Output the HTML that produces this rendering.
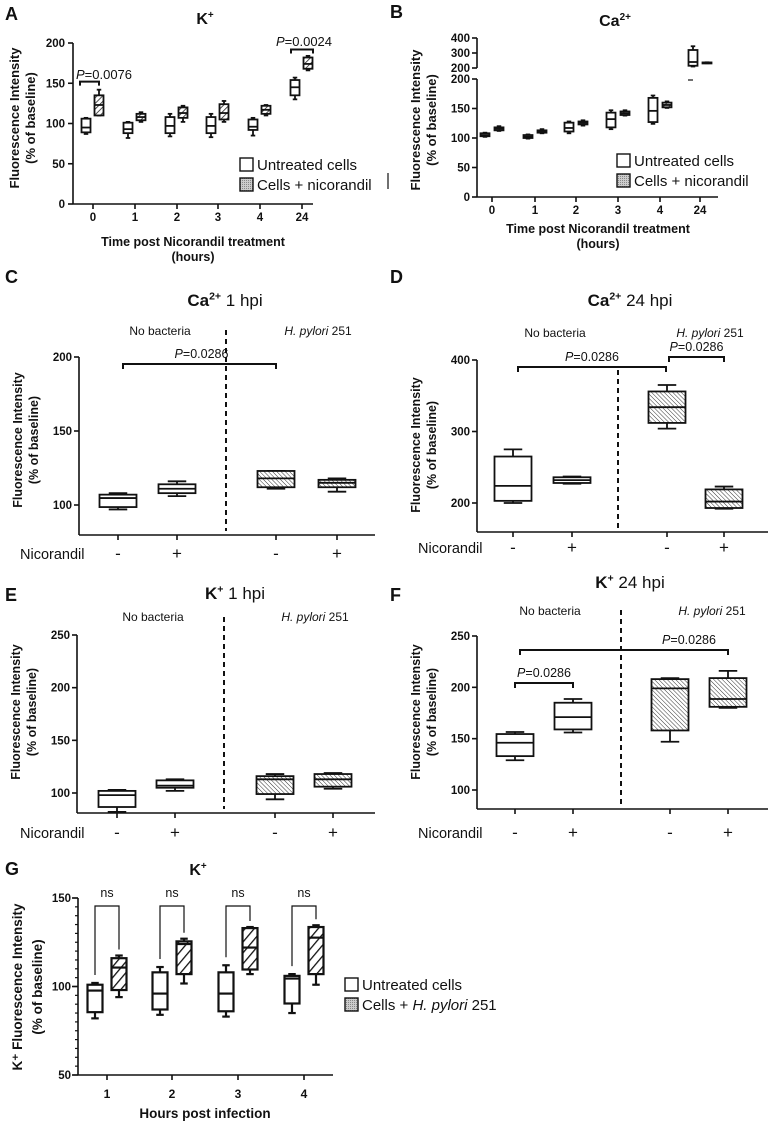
<!DOCTYPE html>
<html><head><meta charset="utf-8">
<style>
html,body{margin:0;padding:0;background:#fff;}
svg{display:block;font-family:"Liberation Sans",Arial,sans-serif;}
</style></head>
<body>
<svg id="fig" width="770" height="1126" viewBox="0 0 770 1126" xmlns="http://www.w3.org/2000/svg">
<defs>
<pattern id="hatchA" patternUnits="userSpaceOnUse" width="4" height="4" patternTransform="rotate(45)"><rect width="4" height="4" fill="#fff"/><line x1="0" y1="0" x2="0" y2="4" stroke="#222" stroke-width="1.6"/></pattern>
<pattern id="hatchC" patternUnits="userSpaceOnUse" width="3" height="3" patternTransform="rotate(-45)"><rect width="3" height="3" fill="#fff"/><line x1="0" y1="0" x2="0" y2="3" stroke="#333" stroke-width="1"/></pattern>
<pattern id="hatchG" patternUnits="userSpaceOnUse" width="7" height="7" patternTransform="rotate(40)"><rect width="7" height="7" fill="#fff"/><line x1="0" y1="0" x2="0" y2="7" stroke="#111" stroke-width="2.6"/></pattern>
<pattern id="legHatch" patternUnits="userSpaceOnUse" width="2" height="2"><rect width="2" height="2" fill="#ccc"/><rect width="1" height="1" fill="#888"/></pattern>
</defs>
</svg>
<script>
// ---------- DATA ----------
// stats = [min, q1, median, q3, max]
const aCats = ["0","1","2","3","4","24"];
const aUntreated = [[87,89,95,106,107],[82,88,93,101,102],[84,88,97,108,112],[83,88,97,108,112],[85,92,96,105,107],[130,135,145,154,157]];
const aTreated = [[110,110,123,135,142],[102,104,108,112,114],[102,107,113,120,122],[102,105,113,124,128],[110,112,117,122,123],[166,168,174,182,184]];
const aTicks = [0,50,100,150,200];

const bCats = ["0","1","2","3","4","24"];
const bUntreated = [[102,103,105,108,109],[99,100,102,105,106],[108,111,117,126,128],[115,118,132,143,147],[124,127,146,168,172],[210,215,240,320,345]];
const bTreated = [[112,113,116,118,120],[108,109,111,113,115],[121,123,126,128,130],[138,139,142,145,147],[151,152,156,160,162],[232,233,235,237,238]];
const bTicksLow = [0,50,100,150,200];
const bTicksHigh = [200,300,400];

const cdSigns = ["-","+","-","+"];
const cStats = [[97,98.6,104.7,107,108],[106,108,111,114,116],[111,112,118,123,123],[109,112,115,117,118]];
const cTicks = [100,150,200];
const dStats = [[200,203,224,265,275],[227,228,232,236,237],[304,312,334,356,365],[192,193,202,219,223]];
const dTicks = [200,300,400];
const eStats = [[82,86.7,98,102,103],[102,105,107,112,113],[94,99,113,116,118],[104,106,113,118,119]];
const eTicks = [100,150,200,250];
const fStats = [[129,133,146,154.5,156.5],[156,159,171,185,188.6],[147,158,199,208,209],[180,181,188.6,209,216]];
const fTicks = [100,150,200,250];

const gCats = ["1","2","3","4"];
const gUntreated = [[82,85.5,97.7,101,102],[84,87,96,108,111],[83,86,96,108,112],[85,90.4,104.5,106,107]];
const gInfected = [[94,98,110.7,116,117.5],[101.7,107,124,125.5,127],[107,109.6,122,133,133.6],[101,107,127.6,133.6,134.6]];
const gTicks = [50,100,150];

// ---------- HELPERS ----------
const NS = "http://www.w3.org/2000/svg";
const svg = document.getElementById("fig");
function el(tag, attrs, parent){
  const e = document.createElementNS(NS, tag);
  for (const k in attrs) e.setAttribute(k, attrs[k]);
  (parent||svg).appendChild(e);
  return e;
}
function txt(x,y,s,size,opts,parent){
  const t = el("text",{x:x,y:y,"font-size":size,"text-anchor":(opts&&opts.anchor)||"middle","font-weight":(opts&&opts.bold)?"bold":"normal",fill:"#111"},parent);
  if (opts && opts.rot) t.setAttribute("transform","rotate(-90 "+x+" "+y+")");
  if (opts && opts.italic) t.setAttribute("font-style","italic");
  t.textContent = s;
  return t;
}
function linear(v0,p0,v1,p1){ return v => p0 + (v - v0) * (p1 - p0) / (v1 - v0); }
function line(x1,y1,x2,y2,w,parent,dash){
  const l = el("line",{x1:x1,y1:y1,x2:x2,y2:y2,stroke:"#111","stroke-width":w||1.5},parent);
  if (dash) l.setAttribute("stroke-dasharray",dash);
  return l;
}
function boxplot(g, cx, w, s, y, fill, sw){
  sw = sw || 1.6;
  const cap = w*0.5;
  line(cx, y(s[4]), cx, y(s[3]), sw, g);
  line(cx, y(s[1]), cx, y(s[0]), sw, g);
  line(cx-cap/2, y(s[4]), cx+cap/2, y(s[4]), sw, g);
  line(cx-cap/2, y(s[0]), cx+cap/2, y(s[0]), sw, g);
  el("rect",{x:cx-w/2,y:y(s[3]),width:w,height:Math.max(1,y(s[1])-y(s[3])),fill:fill,stroke:"#111","stroke-width":sw},g);
  line(cx-w/2, y(s[2]), cx+w/2, y(s[2]), sw, g);
}
function yLabel(x, y, l1, l2, size, bold, parent){
  txt(x, y, l1, size, {rot:true,bold:bold}, parent);
  if (l2) txt(x+16, y, l2, size, {rot:true,bold:bold}, parent);
}
function pval(x,y,val,size,parent){
  const t = el("text",{x:x,y:y,"font-size":size,"text-anchor":"middle",fill:"#111"},parent);
  const a = document.createElementNS(NS,"tspan"); a.setAttribute("font-style","italic"); a.textContent="P"; t.appendChild(a);
  const b = document.createElementNS(NS,"tspan"); b.textContent="="+val; t.appendChild(b);
}
function bracket(x1,x2,yTop,drop,parent,w){
  el("path",{d:"M"+x1+" "+(yTop+drop)+" V"+yTop+" H"+x2+" V"+(yTop+drop),fill:"none",stroke:"#111","stroke-width":w||2},parent);
}
function title(x,y,main,sup,rest,size,parent){
  const t = el("text",{x:x,y:y,"font-size":size,"text-anchor":"middle",fill:"#111"},parent);
  const a = document.createElementNS(NS,"tspan"); a.setAttribute("font-weight","bold"); a.textContent=main; t.appendChild(a);
  const b = document.createElementNS(NS,"tspan"); b.setAttribute("font-weight","bold"); b.setAttribute("font-size",size*0.62); b.setAttribute("dy",-size*0.38); b.textContent=sup; t.appendChild(b);
  if (rest){ const c = document.createElementNS(NS,"tspan"); c.setAttribute("dy",size*0.38); c.textContent=rest; t.appendChild(c); }
}

// ---------- PANEL A ----------
(function(){
  const g = el("g",{});
  
  
  txt(5,20,"A",18,{anchor:"start",bold:true},g);
  title(205,24,"K","+","",16,g);
  const y = linear(0,204,200,43);
  const xc = [93,135,177,218,260,302];
  line(73,43,73,204,1.6,g); line(73,204,313,204,1.6,g);
  aTicks.forEach(v=>{ line(68,y(v),73,y(v),1.6,g); txt(65,y(v)+4,String(v),11.5,{anchor:"end",bold:true},g); });
  aCats.forEach((c,i)=>{ line(xc[i],204,xc[i],209,1.6,g); txt(xc[i],221,c,11.5,{bold:true},g); });
  aUntreated.forEach((s,i)=>boxplot(g,xc[i]-7,9,s,y,"#fff",1.8));
  aTreated.forEach((s,i)=>boxplot(g,xc[i]+6,9,s,y,"url(#hatchA)",1.8));
  bracket(80,99,y(152),4,g,2); pval(104,79,"0.0076",13,g);
  bracket(291,313,y(192),4,g,2); pval(304,46,"0.0024",13,g);
  yLabel(19,118,"Fluorescence Intensity","(% of baseline)",13,true,g);
  txt(193,246,"Time post Nicorandil treatment",12.5,{bold:true},g);
  txt(193,261,"(hours)",12.5,{bold:true},g);
  el("rect",{x:240,y:158,width:13,height:13,fill:"#fff",stroke:"#111","stroke-width":1.4},g);
  txt(257,170,"Untreated cells",15,{anchor:"start"},g);
  el("rect",{x:240,y:178,width:13,height:13,fill:"url(#legHatch)",stroke:"#111","stroke-width":1.4},g);
  txt(257,190,"Cells + nicorandil",15,{anchor:"start"},g);
})();

// ---------- PANEL B ----------
(function(){
  const g = el("g",{});
  
  
  txt(390,18,"B",18,{anchor:"start",bold:true},g);
  title(615,26,"Ca","2+","",16,g);
  const yl = linear(0,197,200,79);
  const yh = linear(200,68,400,38);
  const xc = [492,535,576,618,660,700];
  line(477,79,477,197,1.6,g); line(477,38,477,68,1.6,g); line(477,197,718,197,1.6,g);
  bTicksLow.forEach(v=>{ line(472,yl(v),477,yl(v),1.6,g); txt(470,yl(v)+4,String(v),11.5,{anchor:"end",bold:true},g); });
  bTicksHigh.forEach(v=>{ line(472,yh(v),477,yh(v),1.6,g); txt(470,yh(v)+4,String(v),11.5,{anchor:"end",bold:true},g); });
  bCats.forEach((c,i)=>{ line(xc[i],197,xc[i],202,1.6,g); txt(xc[i],214,c,11.5,{bold:true},g); });
  bUntreated.forEach((s,i)=>{ const yy = i===5 ? yh : yl; boxplot(g,xc[i]-7,9,s,yy,"#fff",1.8); });
  bTreated.forEach((s,i)=>{ const yy = i===5 ? yh : yl; boxplot(g,xc[i]+7,9,s,yy,"url(#hatchA)",1.8); });
  line(688,80,693,80,1.2,g);
  line(388,173,388,189,1.2,g);
  yLabel(420,120,"Fluorescence Intensity","(% of baseline)",13,true,g);
  txt(598,233,"Time post Nicorandil treatment",12.5,{bold:true},g);
  txt(598,248,"(hours)",12.5,{bold:true},g);
  el("rect",{x:617,y:154,width:13,height:13,fill:"#fff",stroke:"#111","stroke-width":1.4},g);
  txt(634,166,"Untreated cells",15,{anchor:"start"},g);
  el("rect",{x:617,y:174,width:13,height:13,fill:"url(#legHatch)",stroke:"#111","stroke-width":1.4},g);
  txt(634,186,"Cells + nicorandil",15,{anchor:"start"},g);
})();

// ---------- GENERIC C-F PANEL ----------
function cfPanel(o){
  const g = el("g",{});
  
  
  txt(o.lx,o.ly,o.letter,18,{anchor:"start",bold:true},g);
  title(o.tx,o.ty,o.tMain,o.tSup,o.tRest,17,g);
  const y = linear(o.v0,o.p0,o.v1,o.p1);
  line(o.ax,o.axTop,o.ax,o.axY,1.6,g); line(o.ax,o.axY,o.axEnd,o.axY,1.6,g);
  o.ticks.forEach(v=>{ line(o.ax-5,y(v),o.ax,y(v),1.6,g); txt(o.ax-7,y(v)+4,String(v),11.5,{anchor:"end",bold:true},g); });
  o.xc.forEach((x,i)=>{ line(x,o.axY,x,o.axY+5,1.6,g); txt(x,o.signY,cdSigns[i],17,{},g); });
  o.stats.forEach((s,i)=>boxplot(g,o.xc[i],37,s,y,i<2?"#fff":"url(#hatchC)",1.8));
  line(o.dash,o.dashTop,o.dash,o.axY-4,2,g,"5,4");
  txt(o.nbx,o.labY,"No bacteria",12,{},g);
  const h = el("text",{x:o.hpx,y:o.labY,"font-size":12,"text-anchor":"middle",fill:"#111"},g);
  const hi = document.createElementNS(NS,"tspan"); hi.setAttribute("font-style","italic"); hi.textContent="H. pylori"; h.appendChild(hi);
  const hn = document.createElementNS(NS,"tspan"); hn.textContent=" 251"; h.appendChild(hn);
  txt(o.nicX,o.signY,"Nicorandil",14.5,{anchor:"start"},g);
  yLabel(o.ylx,o.yly,"Fluorescence Intensity","(% of baseline)",12.5,true,g);
  (o.brackets||[]).forEach(b=>{ bracket(b[0],b[1],b[2],5,g,2); pval((b[0]+b[1])/2+(b[4]||0),b[3],"0.0286",12.5,g); });
}

cfPanel({name:"panel-c-ca-1hpi",letter:"C",lx:5,ly:283,tx:225,ty:306,tMain:"Ca",tSup:"2+",tRest:" 1 hpi",
  v0:100,p0:505,v1:200,p1:357,ticks:cTicks,ax:79,axTop:357,axY:535,axEnd:375,xc:[118,177,276,337],stats:cStats,
  dash:226,dashTop:330,nbx:160,hpx:318,labY:335,nicX:20,signY:559,ylx:22,yly:440,brackets:[[123,276,364,358,2]]});
cfPanel({name:"panel-d-ca-24hpi",letter:"D",lx:390,ly:283,tx:630,ty:306,tMain:"Ca",tSup:"2+",tRest:" 24 hpi",
  v0:200,p0:503,v1:400,p1:360,ticks:dTicks,ax:477,axTop:360,axY:532,axEnd:768,xc:[513,572,667,724],stats:dStats,
  dash:618,dashTop:370,nbx:555,hpx:710,labY:337,nicX:418,signY:553,ylx:420,yly:445,brackets:[[518,666,367,361,0],[669,724,357,351,0]]});
cfPanel({name:"panel-e-k-1hpi",letter:"E",lx:5,ly:601,tx:235,ty:599,tMain:"K",tSup:"+",tRest:" 1 hpi",
  v0:100,p0:793,v1:250,p1:635,ticks:eTicks,ax:77,axTop:635,axY:813,axEnd:375,xc:[117,175,275,333],stats:eStats,
  dash:224,dashTop:617,nbx:153,hpx:315,labY:621,nicX:20,signY:838,ylx:20,yly:712});
cfPanel({name:"panel-f-k-24hpi",letter:"F",lx:390,ly:601,tx:630,ty:588,tMain:"K",tSup:"+",tRest:" 24 hpi",
  v0:100,p0:790,v1:250,p1:636,ticks:fTicks,ax:477,axTop:636,axY:809,axEnd:768,xc:[515,573,670,728],stats:fStats,
  dash:621,dashTop:610,nbx:550,hpx:712,labY:615,nicX:418,signY:838,ylx:420,yly:712,brackets:[[520,728,650,644,65],[515,573,683,677,0]]});

// ---------- PANEL G ----------
(function(){
  const g = el("g",{});
  
  
  txt(5,875,"G",18,{anchor:"start",bold:true},g);
  title(198,875,"K","+","",16,g);
  const y = linear(50,1075,150,898);
  const xc = [107,172,238,304];
  line(78,898,78,1075,1.6,g); line(78,1075,333,1075,1.6,g);
  for (let v=50; v<=150; v+=5){ line(v%50===0?73:75,y(v),78,y(v),1.2,g); }
  gTicks.forEach(v=>{ line(72,y(v),78,y(v),1.6,g); txt(71,y(v)+4,String(v),11.5,{anchor:"end",bold:true},g); });
  gCats.forEach((c,i)=>{ line(xc[i],1075,xc[i],1080,1.6,g); txt(xc[i],1098,c,12,{bold:true},g); });
  gUntreated.forEach((s,i)=>boxplot(g,xc[i]-12,15,s,y,"#fff",2.2));
  gInfected.forEach((s,i)=>{
    boxplot(g,xc[i]+12,15,s,y,"url(#hatchG)",2.2);
    const l = xc[i]-12, r = xc[i]+12, top = 906;
    el("path",{d:"M"+l+" "+(y(gUntreated[i][4])-8)+" V"+top+" H"+r+" V"+(y(s[4])-6),fill:"none",stroke:"#111","stroke-width":1.2},g);
  });
  gCats.forEach((c,i)=>{ txt(xc[i],897,"ns",12.5,{},g); });
  txt(22,987,"K\u207A Fluorescence Intensity",13.5,{rot:true,bold:true},g);
  txt(42,987,"(% of baseline)",13.5,{rot:true,bold:true},g);
  txt(205,1118,"Hours post infection",13.5,{bold:true},g);
  el("rect",{x:345,y:978,width:13,height:13,fill:"#fff",stroke:"#111","stroke-width":1.4},g);
  txt(362,990,"Untreated cells",15,{anchor:"start"},g);
  el("rect",{x:345,y:998,width:13,height:13,fill:"url(#legHatch)",stroke:"#111","stroke-width":1.4},g);
  const lt = el("text",{x:362,y:1010,"font-size":15,fill:"#111"},g);
  const a = document.createElementNS(NS,"tspan"); a.textContent="Cells + "; lt.appendChild(a);
  const b = document.createElementNS(NS,"tspan"); b.setAttribute("font-style","italic"); b.textContent="H. pylori"; lt.appendChild(b);
  const c = document.createElementNS(NS,"tspan"); c.textContent=" 251"; lt.appendChild(c);
})();
</script>
</body></html>
